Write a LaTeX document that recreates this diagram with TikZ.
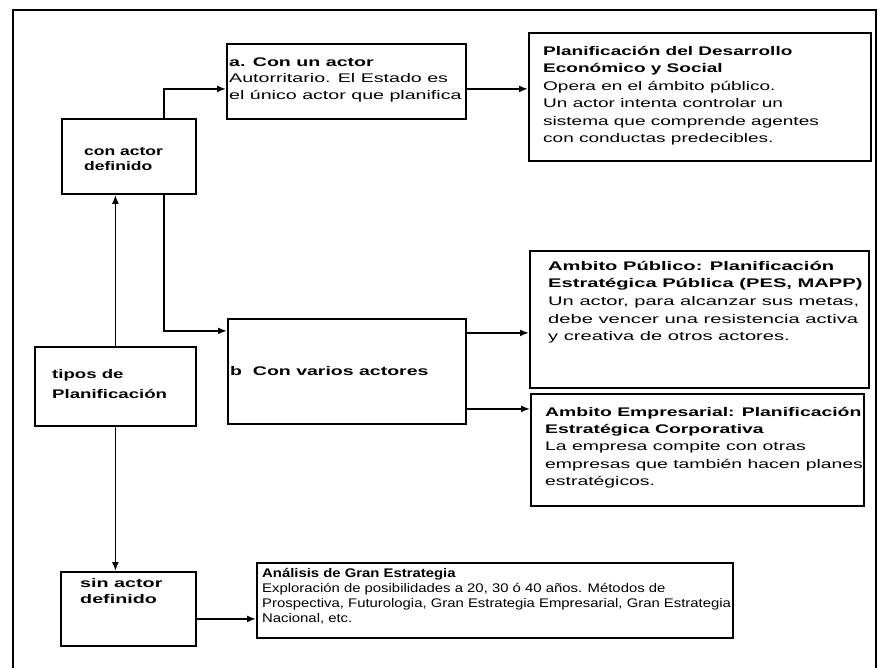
\documentclass[tikz,border=0pt]{standalone}
\usepackage{fontspec}
\setmainfont{Liberation Sans}
\usetikzlibrary{arrows.meta}
\newcommand\sxtext[2]{\scalebox{#1}[1]{\begin{tabular}{@{}l@{}}#2\end{tabular}}}
\tikzset{
  box/.style={draw=black, line width=1.8pt, rectangle, inner sep=0pt, anchor=north west},
  txt/.style={inner sep=0pt, anchor=west, font=\fontsize{12.5}{17.4}\selectfont},
  arr/.style={line width=1.7pt, -{Latex[length=9pt,width=7pt]}},
  frame/.style={line width=1.8pt}
}
\begin{document}
\begin{tikzpicture}[x=1pt,y=-1pt]
\useasboundingbox[fill=white] (0,0) rectangle (880,668);
% outer frame (open at the bottom)
\coordinate (fbl) at (13,668);
\coordinate (ftl) at (13,10);
\coordinate (ftr) at (876,10);
\coordinate (fbr) at (876,668);
\draw[frame] (fbl) -- (ftl) -- (ftr) -- (fbr);

% boxes
\node[box, minimum width=239pt, minimum height=75pt] (a) at (226,43) {};
\node[box, minimum width=342pt, minimum height=128pt] (p) at (528,32) {};
\node[box, minimum width=134pt, minimum height=75pt] (con) at (61,118) {};
\node[box, minimum width=161pt, minimum height=79pt] (tipos) at (34,346) {};
\node[box, minimum width=238pt, minimum height=105pt] (b) at (227,318) {};
\node[box, minimum width=339pt, minimum height=137pt] (pub) at (529,250) {};
\node[box, minimum width=333pt, minimum height=112pt] (emp) at (530,393) {};
\node[box, minimum width=135pt, minimum height=74pt] (sin) at (60,571) {};
\node[box, minimum width=476pt, minimum height=75pt] (ana) at (256,562) {};

% texts
\node[txt, font=\fontsize{12.5}{16.5}\selectfont] (ta) at (229,79.5) {\sxtext{1.57}{\textbf{a. Con un actor}\\Autorritario. El Estado es\\el único actor que planifica}};
\node[txt] (tp) at (543,95.5) {\sxtext{1.52}{\textbf{Planificación del Desarrollo}\\\textbf{Económico y Social}\\Opera en el ámbito público.\\Un actor intenta controlar un\\sistema que comprende agentes\\con conductas predecibles.}};
\node[txt, font=\bfseries\fontsize{12.5}{15}\selectfont] (tcon) at (84,160.5) {\sxtext{1.4}{con actor\\definido}};
\node[txt, font=\bfseries\fontsize{12.5}{20}\selectfont] (ttipos) at (52,384) {\sxtext{1.49}{tipos de\\Planificación}};
\node[txt, font=\bfseries\fontsize{12.5}{17}\selectfont] (tb) at (230,372) {\sxtext{1.56}{b\ \ Con varios actores}};
\node[txt, font=\fontsize{12.5}{17.5}\selectfont] (tpub) at (548,302) {\sxtext{1.61}{\textbf{Ambito Público: Planificación}\\\textbf{Estratégica Pública (PES, MAPP)}\\Un actor, para alcanzar sus metas,\\debe vencer una resistencia activa\\y creativa de otros actores.}};
\node[txt] (temp) at (545,447.5) {\sxtext{1.55}{\textbf{Ambito Empresarial: Planificación}\\\textbf{Estratégica Corporativa}\\La empresa compite con otras\\empresas que también hacen planes\\estratégicos.}};
\node[txt, font=\bfseries\fontsize{12.5}{16}\selectfont] (tsin) at (80,592) {\sxtext{1.58}{sin actor\\definido}};
\node[txt, font=\fontsize{12.5}{15}\selectfont] (tana) at (262,597) {\sxtext{1.19}{\textbf{Análisis de Gran Estrategia}\\Exploración de posibilidades a 20, 30 ó 40 años. Métodos de\\Prospectiva, Futurologia, Gran Estrategia Empresarial, Gran Estrategia\\Nacional, etc.}};

% connectors
\draw[arr] ([xshift=35pt]con.north) |- ([yshift=-7.5pt]a.west);
\draw[arr] ([yshift=-7.5pt]a.east) -- ([yshift=-7.5pt]a.east -| p.west);
\draw[arr] (tipos.north) -- (tipos.north |- con.south);
\draw[arr] ([xshift=35pt]con.south) |- ([yshift=40.5pt]b.west);
\draw[arr] ([yshift=38.5pt]b.east) -- ([yshift=38.5pt]b.east -| pub.west);
\draw[arr] ([yshift=-37.5pt]b.east) -- ([yshift=-37.5pt]b.east -| emp.west);
\draw[arr] (tipos.south) -- (tipos.south |- sin.north);
\draw[arr] ([yshift=-10pt]sin.east) -- ([yshift=-10pt]sin.east -| ana.west);
\end{tikzpicture}
\end{document}
